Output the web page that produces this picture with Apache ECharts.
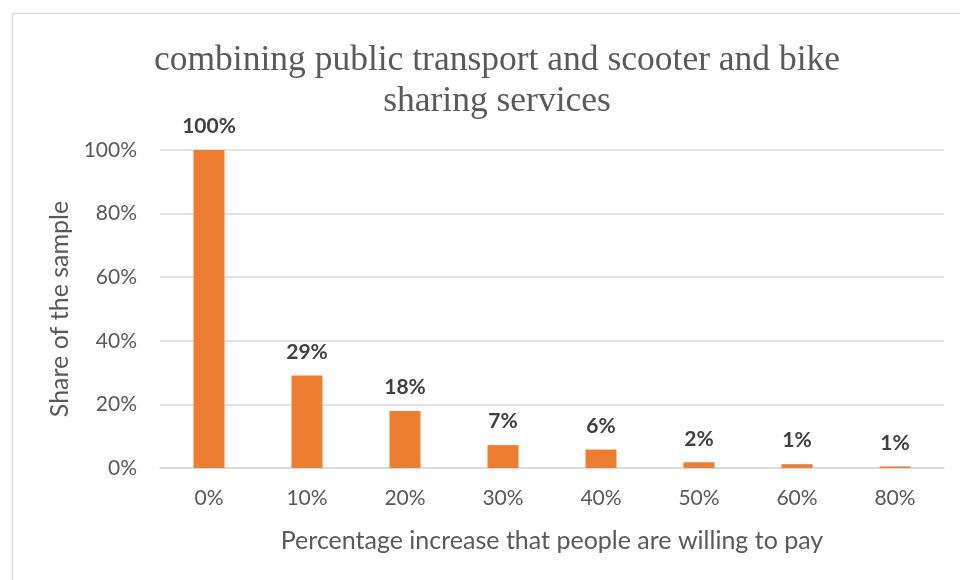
<!DOCTYPE html>
<html>
<head>
<meta charset="utf-8">
<script src="https://cdn.jsdelivr.net/npm/echarts@6/dist/echarts.min.js"></script>
<style>html,body{margin:0;padding:0;background:#fff}#c{width:960px;height:580px}</style>
</head>
<body>
<div id="c"></div>
<script>
const categories = ['0%', '10%', '20%', '30%', '40%', '50%', '60%', '80%'];
const shares = [100, 29.1, 17.9, 7.2, 5.8, 1.8, 1.2, 0.5];
const labelTexts = ['100%', '29%', '18%', '7%', '6%', '2%', '1%', '1%'];
const yTicks = [0, 20, 40, 60, 80, 100];
const titleText = 'combining public transport and scooter and bike\nsharing services';
const xName = 'Percentage increase that people are willing to pay';
const yName = 'Share of the sample';

const sans = 'Lato, "Open Sans", sans-serif';
const chart = echarts.init(document.getElementById('c'), null, {renderer: 'canvas'});
chart.setOption({
  animation: false,
  backgroundColor: '#fff',
  graphic: [{
    type: 'rect', left: 10, top: 11, shape: {width: 1000, height: 1000},
    style: {fill: 'none', stroke: '#d9d9d9', lineWidth: 1.5}, silent: true
  }],
  title: {
    text: titleText,
    left: 492, top: 35, textAlign: 'center',
    textStyle: {fontFamily: '"Liberation Serif", serif', fontWeight: 'normal',
      fontSize: 35.5, color: '#595959', lineHeight: 41}
  },
  grid: {left: 160, right: 16, top: 150, bottom: 112, containLabel: false},
  xAxis: {
    type: 'category', data: categories,
    axisLine: {show: true, lineStyle: {color: '#d9d9d9', width: 1.5}},
    axisTick: {show: false},
    axisLabel: {fontFamily: sans, fontSize: 21, color: '#595959', margin: 20},
    name: xName, nameLocation: 'middle', nameGap: 60,
    nameTextStyle: {fontFamily: sans, fontSize: 25, color: '#595959'}
  },
  yAxis: {
    type: 'value', min: 0, max: 100, interval: 20,
    axisLine: {show: false}, axisTick: {show: false},
    splitLine: {lineStyle: {color: '#d9d9d9', width: 1.5}},
    axisLabel: {fontFamily: sans, fontSize: 21, color: '#595959', margin: 23,
      formatter: v => yTicks.indexOf(v) >= 0 ? v + '%' : ''},
    name: yName, nameLocation: 'middle', nameGap: 82, nameRotate: 90,
    nameTextStyle: {fontFamily: sans, fontSize: 25, color: '#595959'}
  },
  series: [{
    type: 'bar', data: shares, barWidth: 31,
    itemStyle: {color: '#ED7D31'},
    label: {show: true, position: 'top', distance: 13,
      formatter: p => labelTexts[p.dataIndex],
      fontFamily: sans, fontWeight: 'bold', fontSize: 21, color: '#404040'}
  }]
});
</script>
</body>
</html>
